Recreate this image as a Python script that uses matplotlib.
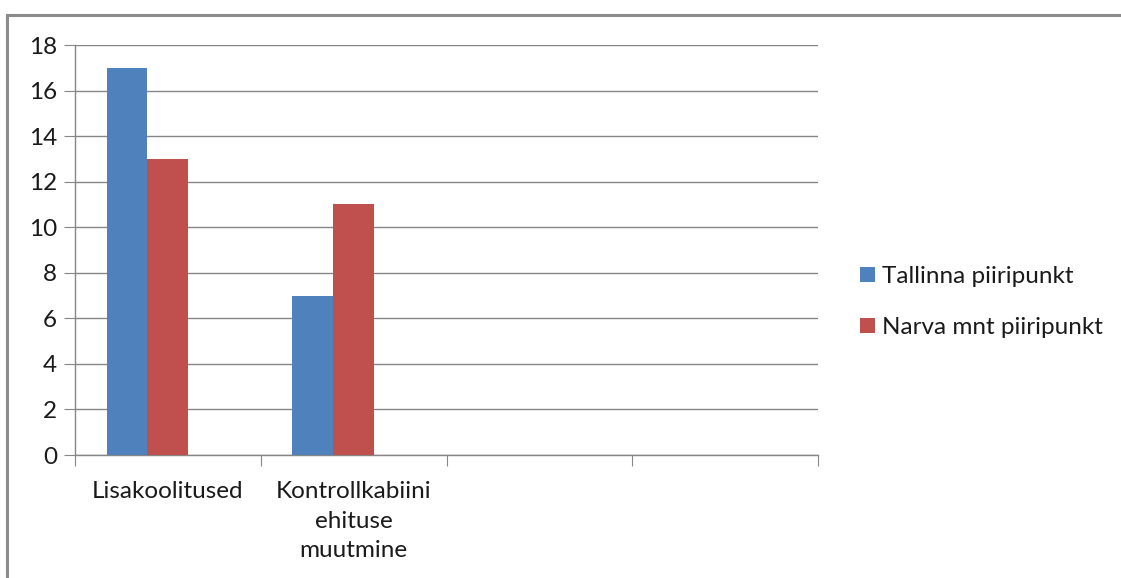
import matplotlib
matplotlib.use("Agg")
import matplotlib.pyplot as plt
import numpy as np

categories = ["Lisakoolitused", "Kontrollkabiini\nehituse\nmuutmine", "", ""]
series_names = ["Tallinna piiripunkt", "Narva mnt piiripunkt"]
tallinna = [17, 7, None, None]
narva = [13, 11, None, None]
y_ticks = [0, 2, 4, 6, 8, 10, 12, 14, 16, 18]

colors = ["#4F81BD", "#C0504D"]
grid_col = "#868686"
txt_col = "#1a1a1a"
fs = 17.5

plt.rcParams["font.family"] = ["Lato", "DejaVu Sans"]

W, H = 1121, 578
fig = plt.figure(figsize=(W / 100, H / 100), dpi=100)
fig.patch.set_facecolor("white")

# outer chart frame
fig.add_artist(plt.Line2D([7 / W, 7 / W], [0, 1 - 15 / H], color="#8c8c8c", lw=2.2,
                          transform=fig.transFigure))
fig.add_artist(plt.Line2D([7 / W, 1], [1 - 15 / H, 1 - 15 / H], color="#8c8c8c", lw=2.2,
                          transform=fig.transFigure))

ax = fig.add_axes([75 / W, 1 - 455 / H, (818 - 75) / W, (455 - 45) / H])

x = np.arange(len(categories))
bw = 0.22
# slot layout for three series per category; the third slot stays empty
offsets = [-bw, 0.0]
for vals, name, col, off in zip([tallinna, narva], series_names, colors, offsets):
    xs = [xi for xi, v in zip(x, vals) if v is not None]
    vs = [v for v in vals if v is not None]
    ax.bar(np.array(xs) + off, vs, width=bw, color=col, label=name, zorder=3)

ax.set_xlim(-0.5, len(categories) - 0.5)
ax.set_ylim(0, 18)
ax.set_yticks(y_ticks)
ax.yaxis.grid(True, color=grid_col, lw=1.0, zorder=0)
ax.tick_params(axis="y", length=8, color=grid_col, labelsize=fs, pad=5, labelcolor=txt_col)

# category boundary ticks on x axis
ax.set_xticks(np.arange(-0.5, len(categories)), minor=False)
ax.set_xticklabels([])
ax.tick_params(axis="x", length=8, color=grid_col)
ax.set_xticks(x, minor=True)
ax.set_xticklabels(categories, minor=True, fontsize=fs, color=txt_col,
                   linespacing=1.5)
ax.tick_params(axis="x", which="minor", length=0, pad=19)

for s in ["top", "right"]:
    ax.spines[s].set_visible(False)
for s in ["left", "bottom"]:
    ax.spines[s].set_color(grid_col)
    ax.spines[s].set_linewidth(1.0)

leg = ax.legend(loc="center left", bbox_to_anchor=(860 / W, 1 - 302 / H),
                bbox_transform=fig.transFigure, frameon=False, fontsize=fs,
                handlelength=0.6, handleheight=0.6, handletextpad=0.3,
                labelspacing=1.25, borderaxespad=0, borderpad=0)
for t in leg.get_texts():
    t.set_color(txt_col)

fig.savefig("out.png", dpi=100, facecolor="white")
